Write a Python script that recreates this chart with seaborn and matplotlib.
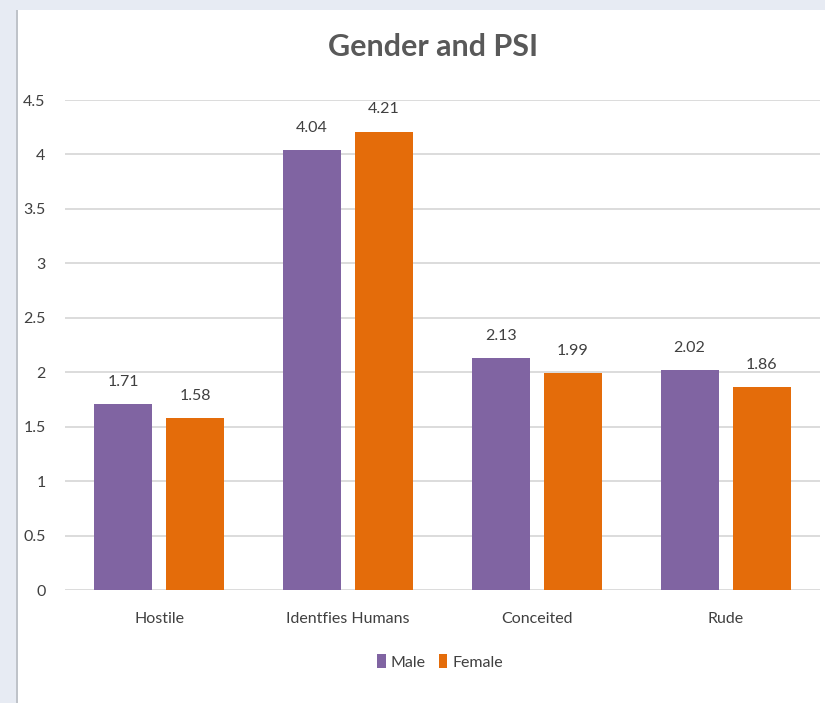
import matplotlib
matplotlib.use("Agg")
import matplotlib.pyplot as plt
import seaborn as sns
import pandas as pd
from matplotlib.patches import Rectangle

categories = ["Hostile", "Identfies Humans", "Conceited", "Rude"]
male = [1.71, 4.04, 2.13, 2.02]
female = [1.58, 4.21, 1.99, 1.86]
series = ["Male", "Female"]
yticks = [0, 0.5, 1, 1.5, 2, 2.5, 3, 3.5, 4, 4.5]
ytick_labels = ["0", "0.5", "1", "1.5", "2", "2.5", "3", "3.5", "4", "4.5"]

df = pd.DataFrame({
    "Category": categories * 2,
    "Value": male + female,
    "Series": ["Male"] * len(categories) + ["Female"] * len(categories),
})

sns.set_theme(style="white")
plt.rcParams["font.family"] = ["Lato", "DejaVu Sans"]

fig = plt.figure(figsize=(8.25, 7.03), dpi=100)
fig.patch.set_facecolor("white")
W, H = 825, 703
# light frame bands
fig.add_artist(Rectangle((0, 0), 16 / W, 1, transform=fig.transFigure,
                         facecolor="#E7EBF3", edgecolor="none", zorder=0))
fig.add_artist(Rectangle((0, 1 - 10 / H), 1, 10 / H, transform=fig.transFigure,
                         facecolor="#E7EBF3", edgecolor="none", zorder=0))
fig.add_artist(Rectangle((16 / W, 0), 1.5 / W, 1 - 10 / H, transform=fig.transFigure,
                         facecolor="#BFC3C9", edgecolor="none", zorder=0))

ax = fig.add_axes([65 / W, 1 - 590 / H, (820 - 65) / W, (590 - 100) / H])
ax.set_facecolor("none")
palette = {"Male": "#8064A2", "Female": "#E46C0A"}
sns.barplot(data=df, x="Category", y="Value", hue="Series", hue_order=series,
            order=categories, palette=palette, width=0.763, gap=0.194,
            saturation=1, ax=ax, legend=True, zorder=3, linewidth=0)

ax.set_ylim(0, 4.5)
ax.set_xlim(-0.5, len(categories) - 0.5)
ax.set_yticks(yticks)
ax.set_yticklabels(ytick_labels)
ax.yaxis.grid(True, color="#D9D9D9", linewidth=1.3, zorder=0)
ax.set_axisbelow(True)
for s in ax.spines.values():
    s.set_visible(False)
ax.set_xlabel("")
ax.set_ylabel("")
ax.tick_params(axis="both", length=0, colors="#404040", labelsize=11.5)
ax.tick_params(axis="y", pad=14)
ax.tick_params(axis="x", pad=16)

for cont in ax.containers:
    ax.bar_label(cont, labels=[f"{v:.2f}" for v in cont.datavalues],
                 padding=11, fontsize=11.5, color="#404040")

fig.text(433 / W, 1 - 47 / H, "Gender and PSI", ha="center", va="center",
         fontsize=22, fontweight="bold", color="#595959")

leg = ax.legend(loc="center", bbox_to_anchor=(440 / W, 1 - 662 / H),
                bbox_transform=fig.transFigure, ncol=2, frameon=False,
                handlelength=0.55, handleheight=1.0, handletextpad=0.3,
                columnspacing=0.8, fontsize=11.5)
for t in leg.get_texts():
    t.set_color("#404040")

fig.savefig("out.png", dpi=100, facecolor="white")
